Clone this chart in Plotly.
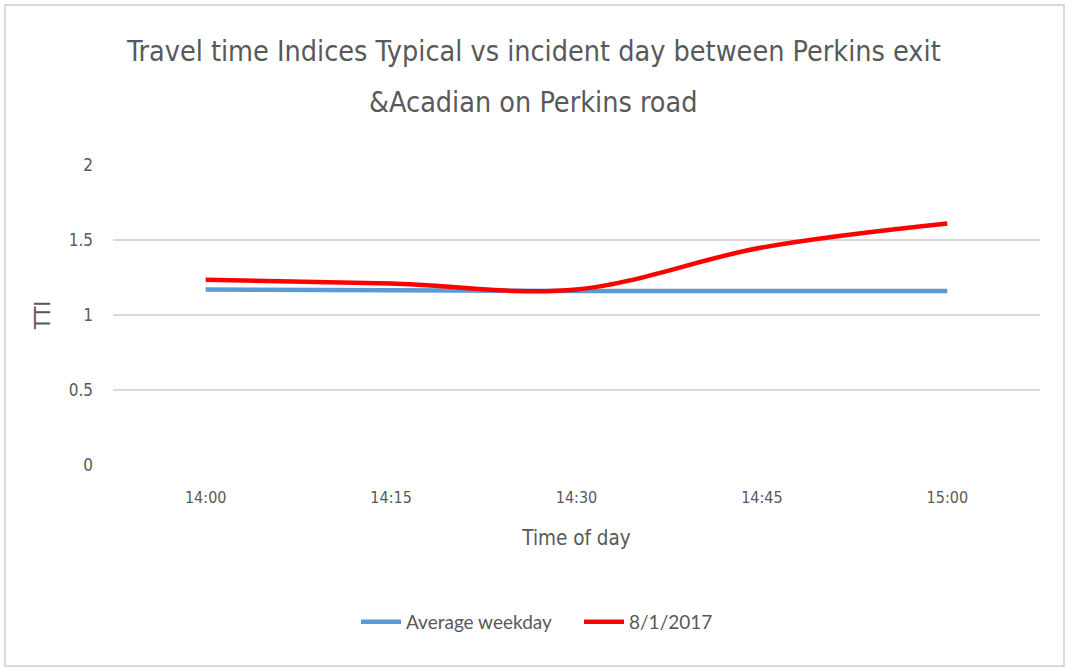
import plotly.graph_objects as go

times = ["14:00", "14:15", "14:30", "14:45", "15:00"]
average_weekday = [1.17, 1.165, 1.16, 1.16, 1.16]
incident_day = [1.235, 1.21, 1.17, 1.45, 1.61]
y_ticks = [0, 0.5, 1, 1.5, 2]
y_ticktext = ["0", "0.5", "1", "1.5", "2"]
title_lines = ["Travel time Indices Typical vs incident day between Perkins exit",
               "&Acadian on Perkins road"]

FONT = "DejaVu Sans Condensed, Lato"
LFONT = "Lato"
GRAY = "#595959"

fig = go.Figure()
fig.add_trace(go.Scatter(x=times, y=average_weekday, mode="lines", name="Average weekday",
                         line=dict(color="#5b9bd5", width=4.5, shape="spline")))
fig.add_trace(go.Scatter(x=times, y=incident_day, mode="lines", name="8/1/2017",
                         line=dict(color="#ff0000", width=4.5, shape="spline")))

fig.update_layout(
    width=1066, height=668,
    margin=dict(l=113, r=26, t=165, b=203),
    paper_bgcolor="white", plot_bgcolor="white",
    font=dict(family=FONT, color=GRAY, size=16),
    xaxis=dict(type="category", range=[-0.5, 4.5], showgrid=False, showline=False, zeroline=False,
               ticks="", tickfont=dict(size=16, color=GRAY), ticklabelstandoff=21,
               title=dict(text="Time of day", font=dict(size=20.5, color=GRAY), standoff=24)),
    yaxis=dict(range=[0, 2], tickvals=y_ticks, ticktext=y_ticktext, showgrid=True, gridcolor="#d9d9d9",
               gridwidth=1.5, zeroline=False, showline=False, ticks="", ticklabelstandoff=19,
               tickfont=dict(size=17, color=GRAY),
               title=dict(text="TTI", font=dict(size=21, color=GRAY), standoff=12)),
    legend=dict(orientation="h", x=(356 - 113) / 927, xanchor="left", xref="paper", y=-0.523,
                yanchor="middle", yref="paper", font=dict(family=LFONT, size=19, color=GRAY),
                itemwidth=40, traceorder="normal", entrywidth=168, entrywidthmode="pixels"),
    showlegend=True,
)
title_y = [52, 103]
for line, py in zip(title_lines, title_y):
    fig.add_annotation(text=line, xref="paper", yref="paper", x=(533 - 113) / 927,
                       y=(465 - py) / 300, xanchor="center", yanchor="middle", showarrow=False,
                       font=dict(family=FONT, size=28.5, color=GRAY))
fig.add_shape(type="rect", xref="paper", yref="paper", x0=-108 / 927, x1=1 + 24 / 927,
              y0=-(203 - 2) / 300, y1=1 + (165 - 5) / 300, line=dict(color="#d9d9d9", width=2),
              layer="below")

fig.write_html("out.html", config={"displayModeBar": False},
               post_script="document.body.style.margin='0';")
